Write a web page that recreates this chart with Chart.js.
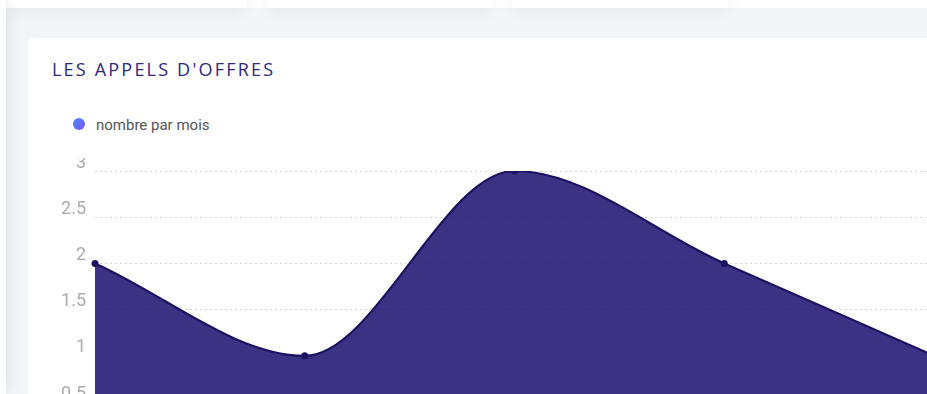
<!DOCTYPE html>
<html lang="fr">
<head>
<meta charset="utf-8">
<title>Les appels d'offres</title>
<script src="https://cdn.jsdelivr.net/npm/chart.js@4.4.0/dist/chart.umd.min.js"></script>
<style>
  html, body {
    margin: 0;
    padding: 0;
    width: 927px;
    height: 394px;
    overflow: hidden;
    background: #f4f5f9;
    font-family: "Roboto", "Inter", sans-serif;
  }
  .sidebar {
    position: absolute;
    left: -200px;
    top: 0;
    width: 206px;
    height: 394px;
    background: #fff;
    box-shadow: 2px 0 14px rgba(0, 0, 0, 0.09);
    z-index: 3;
  }
  .top-card {
    position: absolute;
    top: -40px;
    height: 48px;
    background: #fff;
    box-shadow: 0 4px 18px rgba(0, 0, 0, 0.06);
    z-index: 2;
  }
  .topbar {
    position: absolute;
    left: 0;
    top: 0;
    width: 927px;
    height: 8px;
    background: #fff;
    z-index: 2;
  }
  .card {
    position: absolute;
    left: 28px;
    top: 38px;
    width: 1000px;
    height: 500px;
    background: #fff;
    border-radius: 6px;
  }
  .card h2 {
    position: absolute;
    left: 24px;
    top: 19px;
    margin: 0;
    font-family: "Open Sans", sans-serif;
    font-weight: 500;
    font-size: 18px;
    letter-spacing: 2.2px;
    color: #2e2880;
  }
  .legend {
    position: absolute;
    left: 45px;
    top: 78px;
    display: flex;
    align-items: center;
    font-size: 15px;
    color: #555;
  }
  .legend .dot {
    width: 12px;
    height: 12px;
    border-radius: 50%;
    background: linear-gradient(135deg, #4a86f7, #7b57f4);
    margin-right: 11px;
    margin-top: -3px;
  }
  .chart-clip {
    position: absolute;
    left: 0;
    top: 120px;
    width: 1000px;
    height: 300px;
    overflow: hidden;
  }
  .chart-box {
    position: absolute;
    left: 7px;
    top: -12px;
    width: 903px;
    height: 322px;
  }
</style>
</head>
<body>
<div class="topbar"></div>
<div class="top-card" style="left: 6px; width: 240px;"></div>
<div class="top-card" style="left: 268px; width: 224px;"></div>
<div class="top-card" style="left: 512px; width: 216px;"></div>
<div class="sidebar"></div>

<div class="card">
  <h2>LES APPELS D'OFFRES</h2>
  <div class="legend"><span class="dot"></span>nombre par mois</div>
  <div class="chart-clip">
    <div class="chart-box">
      <canvas id="offresChart"></canvas>
    </div>
  </div>
</div>

<script>
const months = ['Janvier', 'Février', 'Mars', 'Avril', 'Mai'];
const offresParMois = [2, 1, 3, 2, 1];
const yMin = 0;
const yMax = 3;
const yStep = 0.5;

const ctx = document.getElementById('offresChart');
new Chart(ctx, {
    type: 'line',
    data: {
        labels: months,
        datasets: [{
            label: 'nombre par mois',
            data: offresParMois,
            fill: true,
            backgroundColor: 'rgba(31, 20, 112, 0.87)',
            borderColor: '#1a1262',
            borderWidth: 2.2,
            cubicInterpolationMode: 'monotone',
            pointRadius: 3.5,
            pointBackgroundColor: '#1a1262',
            pointBorderColor: '#1a1262',
            pointBorderWidth: 0
        }]
    },
    options: {
        responsive: true,
        maintainAspectRatio: false,
        animation: false,
        layout: {
            padding: { top: 25, bottom: 10, left: 0, right: 0 }
        },
        plugins: {
            legend: { display: false },
            tooltip: { enabled: false }
        },
        scales: {
            x: {
                grid: { display: false },
                border: { display: false },
                ticks: { display: false }
            },
            y: {
                min: yMin,
                max: yMax,
                afterFit: function (scale) {
                    scale.width = 60;
                },
                ticks: {
                    stepSize: yStep,
                    padding: 9,
                    labelOffset: -8,
                    color: '#ababab',
                    font: { family: 'Roboto', size: 18 },
                    callback: value => String(value)
                },
                grid: {
                    color: '#d4d4d4',
                    drawTicks: false
                },
                border: { display: false, dash: [2, 3] }
            }
        }
    }
});
</script>
</body>
</html>
